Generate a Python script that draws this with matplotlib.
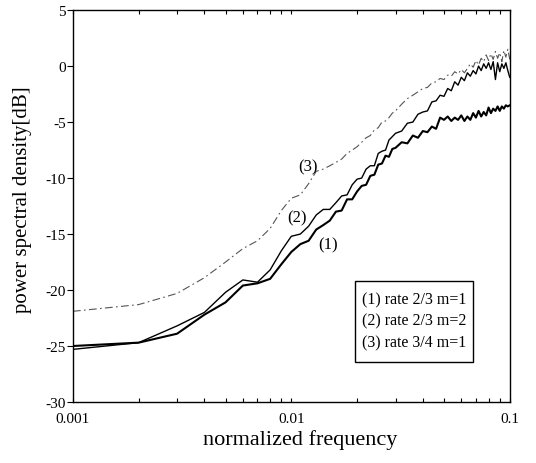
import matplotlib
matplotlib.use("Agg")
import matplotlib.pyplot as plt
from matplotlib.patches import Rectangle
from matplotlib.ticker import FixedLocator, LogLocator, NullFormatter

plt.rcParams['font.family'] = ['Liberation Serif', 'DejaVu Serif']
plt.rcParams['axes.unicode_minus'] = False

freq = [0.001, 0.002, 0.003, 0.004, 0.005, 0.006, 0.007, 0.008, 0.009, 0.010,
        0.011, 0.012, 0.013, 0.014, 0.015, 0.016, 0.017, 0.018, 0.019, 0.020,
        0.021, 0.022, 0.023, 0.024, 0.025, 0.026, 0.027, 0.028, 0.029, 0.030,
        0.032, 0.034, 0.036, 0.038, 0.040, 0.042, 0.044, 0.046, 0.048, 0.050,
        0.052, 0.054, 0.056, 0.058, 0.060, 0.062, 0.064, 0.066, 0.068, 0.070,
        0.072, 0.074, 0.076, 0.078, 0.080, 0.082, 0.084, 0.086, 0.088, 0.090,
        0.092, 0.094, 0.096, 0.098, 0.100]

psd_1 = [-25.0, -24.7, -23.9, -22.2, -21.1, -19.6, -19.4, -19.0, -17.7, -16.6,
         -15.9, -15.6, -14.6, -14.2, -13.8, -13.0, -12.9, -11.9, -11.9, -11.2,
         -10.7, -10.6, -9.8, -9.7, -8.8, -8.7, -8.0, -8.1, -7.4, -7.3,
         -6.8, -6.9, -6.2, -6.4, -5.8, -5.9, -5.4, -5.6, -4.6, -4.8,
         -4.5, -4.9, -4.6, -4.8, -4.4, -4.9, -4.5, -4.8, -4.2, -4.6,
         -4.0, -4.5, -4.1, -4.4, -3.7, -4.2, -3.8, -4.0, -3.6, -4.0,
         -3.6, -3.8, -3.5, -3.6, -3.5]

psd_2 = [-25.3, -24.7, -23.2, -22.0, -20.2, -19.1, -19.3, -18.2, -16.5, -15.2,
         -15.0, -14.3, -13.3, -12.8, -12.8, -12.2, -11.6, -11.5, -10.6, -10.1,
         -10.0, -9.2, -8.9, -8.9, -7.8, -7.6, -7.5, -6.6, -6.3, -6.0,
         -5.8, -5.1, -5.0, -4.3, -4.1, -4.0, -3.2, -3.1, -2.6, -2.7,
         -2.0, -2.2, -1.4, -1.7, -1.0, -1.3, -0.6, -0.9, -0.4, -0.7,
         0.0, -0.4, 0.2, -0.2, 0.3, -0.3, 0.4, -1.2, 0.3, -0.5,
         0.2, -0.2, 0.3, -0.4, -1.0]

psd_3 = [-21.9, -21.3, -20.3, -18.9, -17.5, -16.3, -15.6, -14.5, -12.9, -11.8,
         -11.5, -10.5, -9.4, -9.2, -8.9, -8.6, -8.3, -7.8, -7.5, -7.2,
         -6.8, -6.4, -6.2, -5.7, -5.5, -5.0, -4.9, -4.6, -4.2, -4.0,
         -3.4, -2.9, -2.6, -2.3, -2.0, -1.9, -1.5, -1.4, -1.1, -1.2,
         -0.8, -0.9, -0.5, -0.7, -0.3, -0.6, -0.2, 0.2, -0.1, 0.5,
         0.1, 0.7, 0.4, 1.0, 0.5, 1.1, 0.6, 1.3, 0.7, 1.2,
         0.4, 1.4, 0.8, 1.5, 0.6]

curve_tags = ['(1)', '(2)', '(3)']
tag_pos_f = [0.0147, 0.0106, 0.0119]
tag_pos_v = [-15.9, -13.5, -9.0]
legend_lines = ['(1) rate 2/3 m=1', '(2) rate 2/3 m=2', '(3) rate 3/4 m=1']
y_ticks = [5, 0, -5, -10, -15, -20, -25, -30]
x_ticks = [0.001, 0.01, 0.1]
x_tick_labels = ['0.001', '0.01', '0.1']

fig = plt.figure(figsize=(5.36, 4.64), dpi=100)
ax = fig.add_axes([0.136, 0.1315, 0.815, 0.8445])

ax.plot(freq, psd_3, color='#555555', lw=0.8, linestyle=(0, (7, 3, 1.5, 3)))
ax.plot(freq, psd_2, color='black', lw=1.0)
ax.plot(freq, psd_1, color='black', lw=1.5)

ax.set_xscale('log')
ax.set_xlim(0.001, 0.1)
ax.set_ylim(-30, 5)
ax.xaxis.set_major_locator(FixedLocator(x_ticks))
ax.set_xticklabels(x_tick_labels)
ax.xaxis.set_minor_locator(LogLocator(base=10, subs=range(2, 10)))
ax.xaxis.set_minor_formatter(NullFormatter())
ax.set_yticks(y_ticks)
ax.set_yticklabels([str(v) for v in y_ticks])

ax.tick_params(axis='x', which='both', direction='in', top=True, length=3, width=0.8, labelsize=11, pad=7)
ax.tick_params(axis='y', which='both', direction='out', length=4, width=0.8, labelsize=11, pad=1)
for s in ax.spines.values():
    s.set_linewidth(1.0)

ax.set_xlabel('normalized frequency', fontsize=16)
ax.set_ylabel('power spectral density[dB]', fontsize=15)
ax.xaxis.set_label_coords(0.52, -0.069)
ax.yaxis.set_label_coords(-0.094, 0.518)

for t, fx, vy in zip(curve_tags, tag_pos_f, tag_pos_v):
    ax.text(fx, vy, t, fontsize=12, ha='center', va='center')

ax.add_patch(Rectangle((0.645, 0.103), 0.270, 0.205, transform=ax.transAxes,
                       fill=False, edgecolor='black', lw=1.0))
for i, line in enumerate(legend_lines):
    ax.text(0.661, 0.263 - i * 0.0555, line, transform=ax.transAxes,
            fontsize=11.5, ha='left', va='center')

fig.savefig('out.png', dpi=100)
